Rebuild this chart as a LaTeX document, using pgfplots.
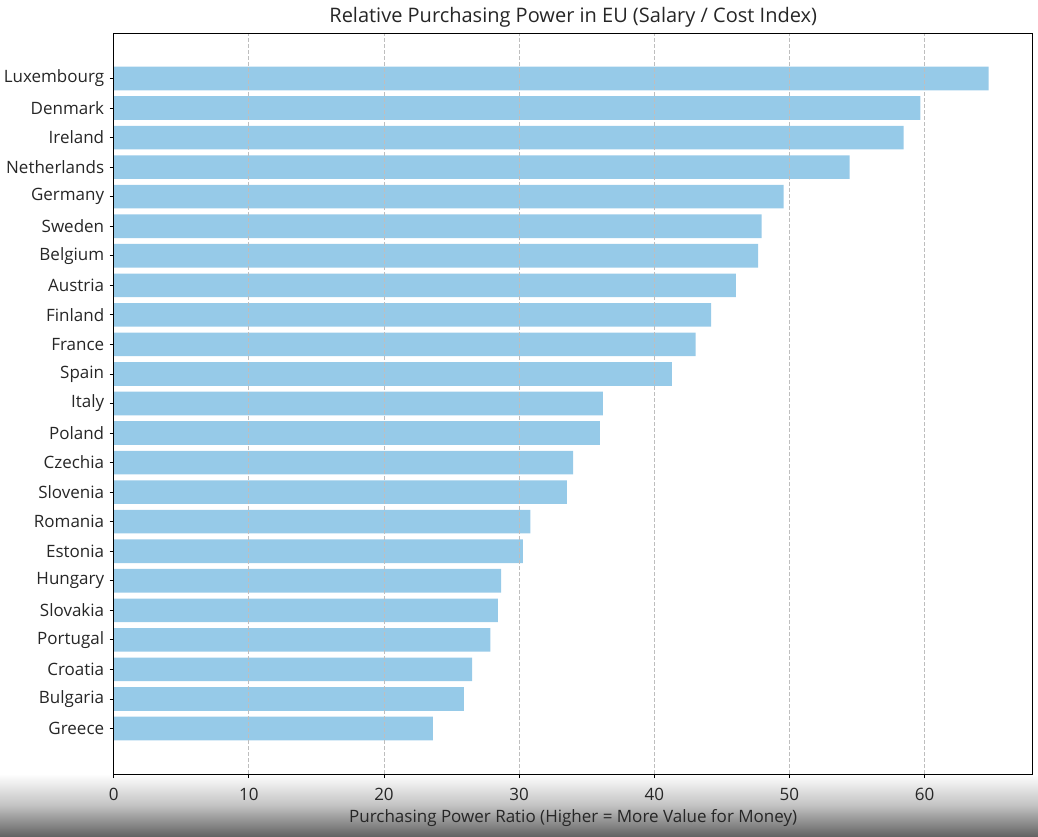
\documentclass[border=0pt]{standalone}
\usepackage{pgfplots}
\pgfplotsset{compat=1.18}
\usepackage{fontspec}
\setmainfont{Open Sans}
\definecolor{barblue}{RGB}{150,202,232}
\definecolor{gridgray}{RGB}{190,190,190}
\begin{document}
\begin{tikzpicture}[x=1pt,y=1pt]
\shade[top color=white, bottom color={rgb,255:red,100;green,100;blue,100}, middle color={rgb,255:red,195;green,195;blue,195}] (-113.7,-62) rectangle (924.3,0);
\begin{axis}[
  at={(0,0)}, anchor=south west,
  scale only axis,
  width=919pt, height=741pt,
  xmin=0, xmax=68.0,
  ymin=-1.54, ymax=23.54,
  xbar, bar width=23.6pt,
  bar shift=0pt,
  xtick={0,10,...,60},
  ytick={0,...,22},
  yticklabels={Greece,Bulgaria,Croatia,Portugal,Slovakia,Hungary,Estonia,Romania,Slovenia,Czechia,Poland,Italy,Spain,France,Finland,Austria,Belgium,Sweden,Germany,Netherlands,Ireland,Denmark,Luxembourg},
  tick style={black, line width=0.8pt},
  major tick length=4pt,
  tick align=outside,
  xtick pos=bottom, ytick pos=left,
  xmajorgrids,
  grid style={gridgray, dash pattern=on 4pt off 2pt, line width=0.9pt},
  axis on top,
  axis line style={black, line width=0.9pt},
  ticklabel style={font=\fontsize{17}{20}\selectfont, text=black!85},
  /pgf/number format/assume math mode=true,
  title={Relative Purchasing Power in EU (Salary / Cost Index)},
  title style={font=\fontsize{20}{24}\selectfont, text=black!85, yshift=-4pt},
  xlabel={Purchasing Power Ratio (Higher = More Value for Money)},
  xlabel style={font=\fontsize{17}{20}\selectfont, text=black!85, yshift=-2pt},
  x tick label style={yshift=-7pt},
  y tick label style={xshift=-2pt},
]
\addplot[fill=barblue, draw=none] coordinates {
(23.61,0) (25.91,1) (26.52,2) (27.88,3) (28.42,4) (28.67,5) (30.27,6) (30.84,7) (33.53,8) (34.00,9) (35.97,10) (36.20,11) (41.30,12) (43.05,13) (44.20,14) (46.04,15) (47.69,16) (47.94,17) (49.57,18) (54.45,19) (58.45,20) (59.68,21) (64.74,22)
};
\end{axis}
\pgfresetboundingbox
\useasboundingbox (-113.7,-62) rectangle (924.3,774);
\end{tikzpicture}
\end{document}
